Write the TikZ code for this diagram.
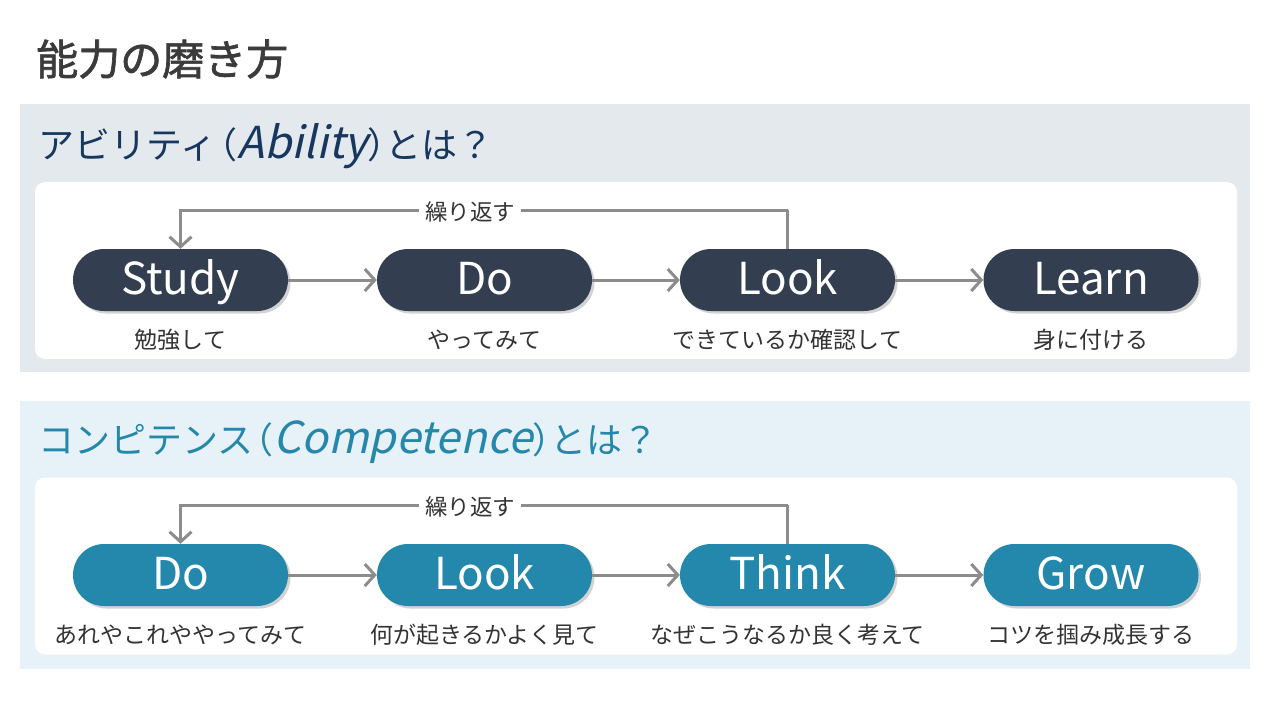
\documentclass[tikz,border=0pt]{standalone}
\usepackage{fontspec}
\setmainfont{Noto Sans CJK JP}
\newfontfamily\itf{Noto Sans CJK JP}[FakeSlant=0.22]
\newfontfamily\titlef{Noto Sans CJK JP}[FakeBold=1.6]
\usetikzlibrary{arrows.meta,shadows}
\definecolor{titlec}{HTML}{3B3B3B}
\definecolor{bgone}{HTML}{E4E9EE}
\definecolor{bgtwo}{HTML}{E6F2F8}
\definecolor{headone}{HTML}{17375E}
\definecolor{headtwo}{HTML}{2587AA}
\definecolor{pillone}{HTML}{333F50}
\definecolor{pilltwo}{HTML}{2388AC}
\definecolor{arrc}{HTML}{8C8C8C}
\definecolor{subc}{HTML}{333333}
\newcommand{\itword}[1]{{\fontsize{44}{36}\itf #1}}
\begin{document}
\begin{tikzpicture}[x=1pt,y=-1pt,
  panel/.style={rectangle, inner sep=0pt, minimum width=1230pt, minimum height=268pt},
  inner/.style={rectangle, fill=white, rounded corners=10pt, inner sep=0pt, minimum width=1202pt, minimum height=177pt},
  pill/.style={rectangle, rounded corners=31pt, minimum width=215pt, minimum height=62pt, inner sep=0pt,
     text height=29pt, text depth=0pt,
     text=white, font=\fontsize{44}{44}\selectfont,
     drop shadow={shadow xshift=2.5pt, shadow yshift=-2.5pt, opacity=0.35}},
  pillA/.style={pill, fill=pillone},
  pillB/.style={pill, fill=pilltwo},
  sublabel/.style={text=subc, font=\fontsize{23}{23}\selectfont, inner sep=0pt},
  arr/.style={draw=arrc, line width=3pt, -{Straight Barb[length=10pt,width=22pt,line width=3pt]}},
  loopline/.style={draw=arrc, line width=3pt},
  repeatlabel/.style={fill=white, text=subc, font=\fontsize{22.5}{22.5}\selectfont, inner xsep=6pt, inner ysep=2pt},
  heading/.style={anchor=west, inner sep=0pt, font=\fontsize{36}{36}\selectfont}
]
\useasboundingbox (0,0) rectangle (1280,720);
\fill[white] (0,0) rectangle (1280,720);

\node[anchor=west, inner sep=0pt, text=titlec, font=\fontsize{42}{42}\titlef] (title) at (36,59) {能力の磨き方};

% Panel 1
\node[panel, fill=bgone] (p1) at (635,238) {};
\node[heading, text=headone] (h1) at (38,146) {アビリティ\kern-0.4em（\itword{Ability}）\kern-0.5emとは？};
\node[inner] (w1) at (636,270.5) {};
\node[pillA] (s1) at (180.5,280) {Study};
\node[pillA] (d1) at (484.5,280) {Do};
\node[pillA] (l1) at (787.5,280) {Look};
\node[pillA] (n1) at (1091,280) {Learn};
\draw[arr] (s1) -- (d1);
\draw[arr] (d1) -- (l1);
\draw[arr] (l1) -- (n1);
\coordinate (c1) at (787.5,210);
\draw[loopline] (l1.north) -- (c1);
\draw[arr] (c1) -| (s1.north);
\node[repeatlabel] (r1) at (470,212) {繰り返す};
\node[sublabel] (t1) at (180.5,340) {勉強して};
\node[sublabel] (t2) at (484.5,340) {やってみて};
\node[sublabel] (t3) at (787.5,340) {できているか確認して};
\node[sublabel] (t4) at (1091,340) {身に付ける};

% Panel 2
\node[panel, fill=bgtwo] (p2) at (635,534.5) {};
\node[heading, text=headtwo] (h2) at (38,442) {コンピテンス\kern-0.45em（\itword{Competence}）\kern-0.5emとは？};
\node[inner] (w2) at (636,566) {};
\node[pillB] (s2) at (180.5,575) {Do};
\node[pillB] (d2) at (484.5,575) {Look};
\node[pillB] (l2) at (787.5,575) {Think};
\node[pillB] (n2) at (1091,575) {Grow};
\draw[arr] (s2) -- (d2);
\draw[arr] (d2) -- (l2);
\draw[arr] (l2) -- (n2);
\coordinate (c2) at (787.5,505);
\draw[loopline] (l2.north) -- (c2);
\draw[arr] (c2) -| (s2.north);
\node[repeatlabel] (r2) at (470,507) {繰り返す};
\node[sublabel] (u1) at (180.5,635) {あれやこれややってみて};
\node[sublabel] (u2) at (484.5,635) {何が起きるかよく見て};
\node[sublabel] (u3) at (787.5,635) {なぜこうなるか良く考えて};
\node[sublabel] (u4) at (1091,635) {コツを掴み成長する};
\end{tikzpicture}
\end{document}
